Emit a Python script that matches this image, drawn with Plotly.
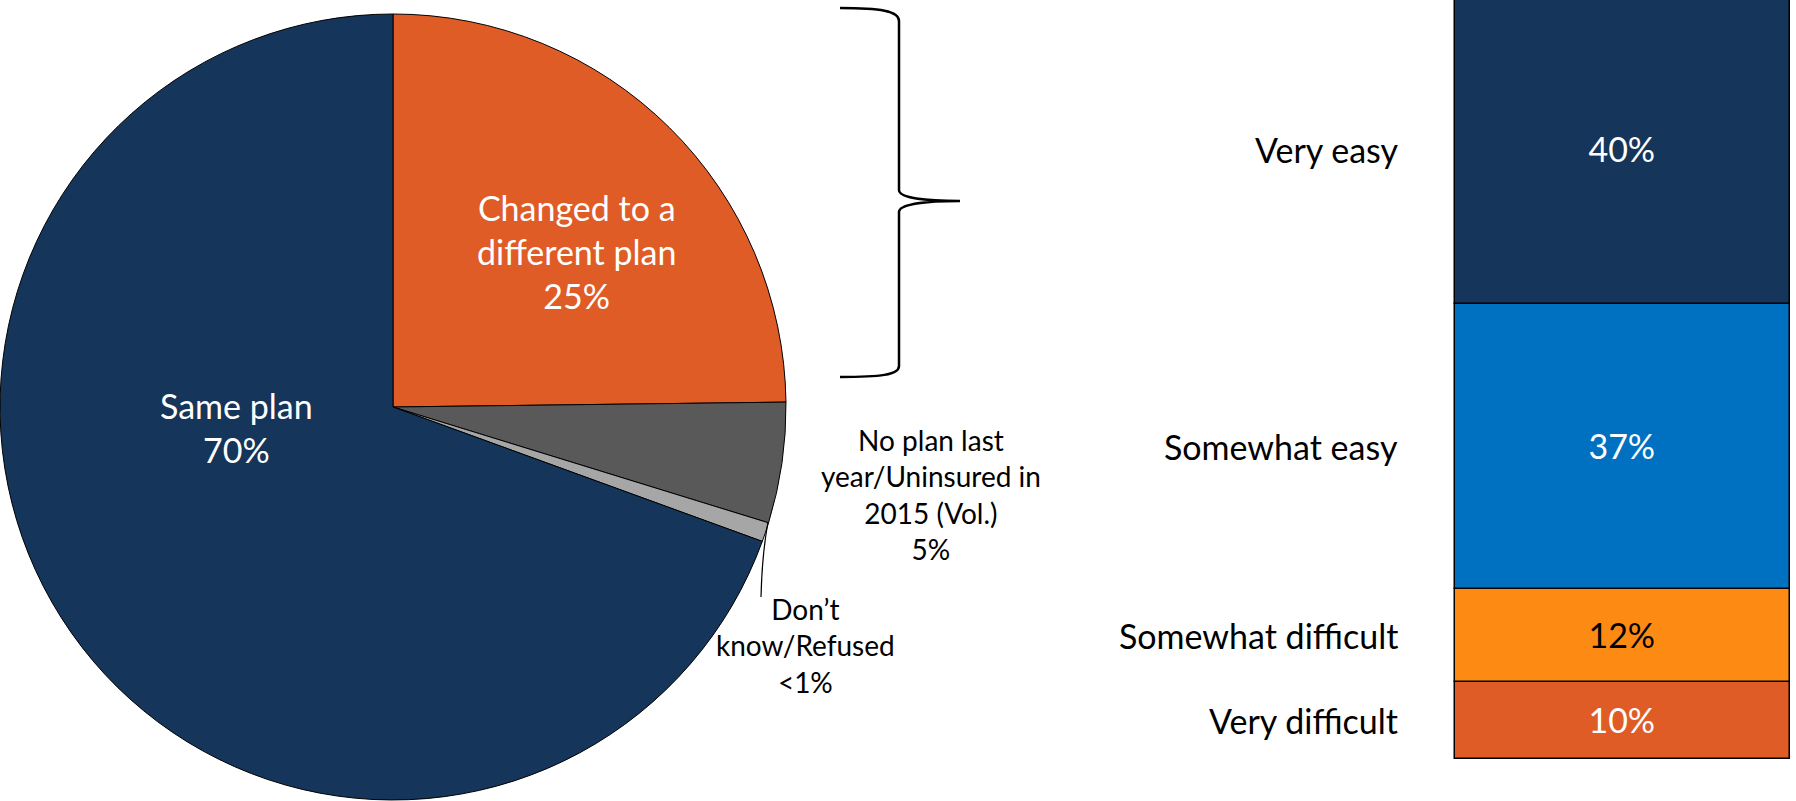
import plotly.graph_objects as go

W, H = 1796, 801

# ---- pie: plan status this year ----
pie_labels = ["Changed to a<br>different plan", "No plan last<br>year/Uninsured in<br>2015 (Vol.)",
              "Don’t<br>know/Refused", "Same plan"]
pie_values = [25, 5, 0.8, 70]
pie_value_text = ["25%", "5%", "<1%", "70%"]
pie_colors = ["#DF5C27", "#595959", "#A6A6A6", "#15355A"]

# ---- stacked column: ease of changing plans ----
ease_labels = ["Very difficult", "Somewhat difficult", "Somewhat easy", "Very easy"]
ease_values = [10, 12, 37, 40]
ease_colors = ["#DF5C27", "#FD8A13", "#0070C0", "#15355A"]
ease_text_colors = ["white", "black", "white", "white"]

FONT = "Lato"
BIG = 34
SMALL = 28


def px(x):
    return x / W


def py(y):
    return 1 - y / H


fig = go.Figure()

# pie circle: centre (393, 407), radius 393 in pixels
cx, cy, r = 393, 407, 393
fig.add_trace(go.Pie(
    labels=pie_labels, values=pie_values, sort=False, direction="clockwise",
    rotation=0, marker=dict(colors=pie_colors, line=dict(color="black", width=1)),
    textinfo="none", hoverinfo="skip", showlegend=False,
    domain=dict(x=[px(cx - r), px(cx + r)], y=[py(cy + r), py(cy - r)]),
))

fig.add_trace(go.Bar(
    x=[0] * len(ease_values), y=ease_values, width=1,
    marker=dict(color=ease_colors, line=dict(color="black", width=1.5)),
    text=[f"{v}%" for v in ease_values], textposition="inside",
    insidetextanchor="middle",
    textfont=dict(family=FONT, size=BIG, color=ease_text_colors),
    hoverinfo="skip", showlegend=False, xaxis="x", yaxis="y",
))

# category labels to the left of the column, at each segment's midpoint
ann = []
cum = 0
for lab, v in zip(ease_labels, ease_values):
    mid = cum + v / 2
    cum += v
    ann.append(dict(x=px(1400), xref="paper", y=mid, yref="y", text=lab,
                    xanchor="right", yanchor="middle", showarrow=False,
                    font=dict(family=FONT, size=BIG, color="black")))

# pie labels
pie_label_pos = [(576, 251, "white", BIG), (931, 495, "black", SMALL),
                 (805, 645, "black", SMALL), (237, 427, "white", BIG)]
for lab, vt, (x, y, c, s) in zip(pie_labels, pie_value_text, pie_label_pos):
    ann.append(dict(x=px(x), y=py(y), xref="paper", yref="paper",
                    text=f"{lab}<br>{vt}", showarrow=False, align="center",
                    xanchor="center", yanchor="middle",
                    font=dict(family=FONT, size=s, color=c)))

shapes = []
# leader line for the small slice
shapes.append(dict(type="path", xref="paper", yref="paper",
                   path=f"M {px(768)} {py(522)} Q {px(762)} {py(555)} {px(761)} {py(597)}",
                   line=dict(color="black", width=1.2)))

# curly brace beside the "changed" slice
pts = [
    ("M", [(840, 8)]),
    ("C", [(880, 8), (899, 11), (899, 21)]),
    ("L", [(899, 190)]),
    ("C", [(899, 198), (925, 201), (960, 201)]),
    ("C", [(925, 201), (899, 204), (899, 212)]),
    ("L", [(899, 366)]),
    ("C", [(899, 375), (880, 377), (840, 377)]),
]
path = " ".join(cmd + " " + " ".join(f"{px(a):.5f},{py(b):.5f}" for a, b in p) for cmd, p in pts)
shapes.append(dict(type="path", xref="paper", yref="paper", path=path,
                   line=dict(color="black", width=2.5)))

# column axes: x-domain and ranges place the column between 1455 and 1790 px,
# with its base at 759 px and 7.72 px per percentage point
col_left, col_right = 1455, 1790
dom_left = 1440
unit_px = col_right - col_left
a = -0.5 - (col_left - dom_left) / unit_px
b = a + (W - dom_left) / unit_px
base_px, ppu = 759, 7.72

fig.update_layout(
    width=W, height=H, margin=dict(l=0, r=0, t=0, b=0),
    paper_bgcolor="white", plot_bgcolor="white",
    barmode="stack", bargap=0,
    xaxis=dict(domain=[px(dom_left), 1], range=[a, b], visible=False, fixedrange=True),
    yaxis=dict(domain=[0, 1], range=[-(H - base_px) / ppu, base_px / ppu],
               visible=False, fixedrange=True),
    annotations=ann, shapes=shapes,
    font=dict(family=FONT),
)

fig.write_html("out.html")
